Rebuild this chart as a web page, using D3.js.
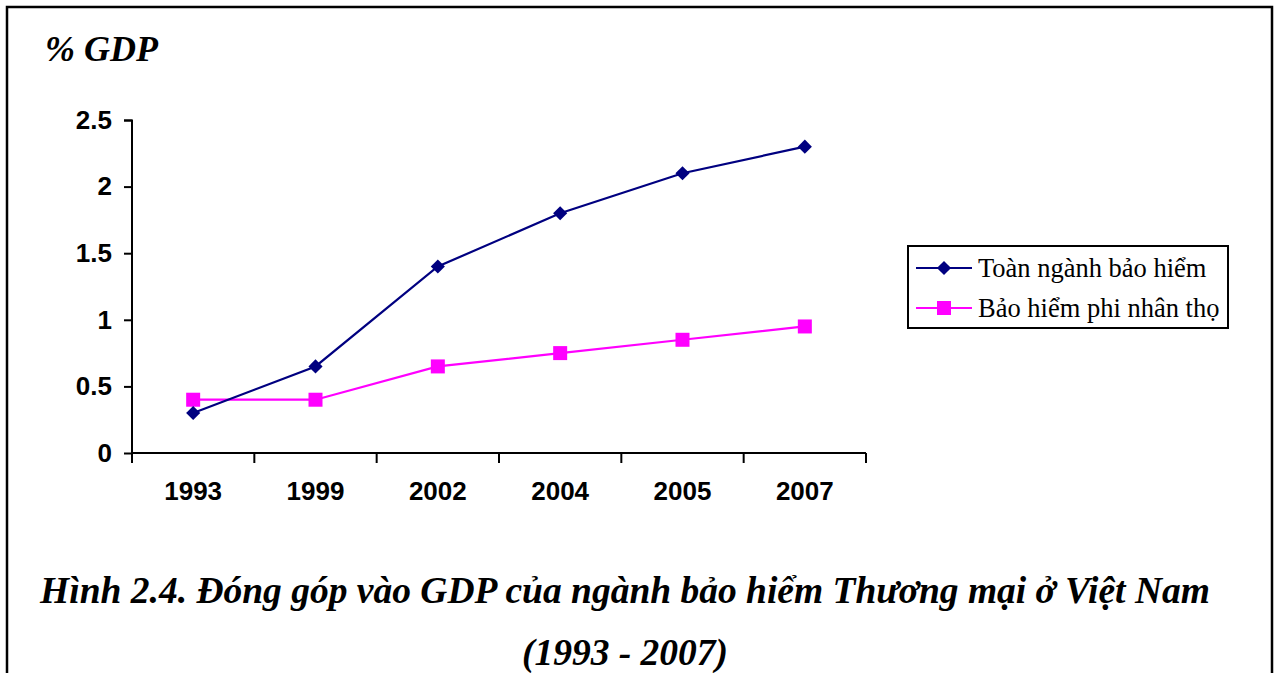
<!DOCTYPE html>
<html><head><meta charset="utf-8">
<script src="https://cdn.jsdelivr.net/npm/d3@7"></script>
<style>body{margin:0;background:#fff}svg{display:block}</style>
</head><body>
<svg id="c" width="1280" height="673"></svg>
<script>
const categories = ["1993","1999","2002","2004","2005","2007"];
const totalInsurance = [0.3, 0.65, 1.4, 1.8, 2.1, 2.3];
const nonLifeInsurance = [0.4, 0.4, 0.65, 0.75, 0.85, 0.95];
const yTicks = [0, 0.5, 1, 1.5, 2, 2.5];
const seriesNames = ["Toàn ngành bảo hiểm", "Bảo hiểm phi nhân thọ"];
const yTitle = "% GDP";
const captionLines = ["Hình 2.4. Đóng góp vào GDP của ngành bảo hiểm Thương mại ở Việt Nam", "(1993 - 2007)"];

const svg = d3.select("#c");
// frame
svg.append("path").attr("d","M7,680 V7 H1272 V680").attr("fill","none").attr("stroke","#000").attr("stroke-width",2.5);

const x = d3.scaleBand().domain(categories).range([132, 866]);
const y = d3.scaleLinear().domain([0, 2.5]).range([453, 120]);

const gy = svg.append("g").attr("transform","translate(132,0)")
  .call(d3.axisLeft(y).tickValues(yTicks).tickFormat(d=>String(d)).tickSize(8).tickPadding(12));
gy.select(".domain").attr("stroke","#000").attr("stroke-width",2).attr("d","M-8,120.5H0V453");
gy.selectAll(".tick line").attr("stroke","#000").attr("stroke-width",2);
gy.selectAll(".tick text").attr("font-family","Liberation Sans, Arial").attr("font-weight","bold").attr("font-size",26).attr("fill","#000");

const gx = svg.append("g").attr("transform","translate(0,453)")
  .call(d3.axisBottom(x).tickSize(0).tickPadding(29));
gx.select(".domain").attr("stroke","#000").attr("stroke-width",2).attr("d","M132,0H866");
gx.selectAll(".tick text").attr("font-family","Liberation Sans, Arial").attr("font-weight","bold").attr("font-size",26).attr("fill","#000");
// category boundary ticks
const bounds = categories.map(c=>x(c)).concat([x(categories[categories.length-1])+x.bandwidth()]);
svg.append("g").selectAll("line").data(bounds).join("line")
  .attr("x1",d=>d).attr("x2",d=>d).attr("y1",453).attr("y2",463).attr("stroke","#000").attr("stroke-width",2);

const cx = c => x(c) + x.bandwidth()/2;
const line = d3.line().x((d,i)=>cx(categories[i])).y(d=>y(d));

svg.append("path").datum(nonLifeInsurance).attr("d",line).attr("fill","none").attr("stroke","#ff00ff").attr("stroke-width",2.2);
svg.append("path").datum(totalInsurance).attr("d",line).attr("fill","none").attr("stroke","#000080").attr("stroke-width",2.2);

svg.append("g").selectAll("rect").data(nonLifeInsurance).join("rect")
  .attr("x",(d,i)=>cx(categories[i])-7).attr("y",d=>y(d)-7).attr("width",14).attr("height",14).attr("fill","#ff00ff");
svg.append("g").selectAll("path").data(totalInsurance).join("path")
  .attr("d", d3.symbol().type(d3.symbolSquare).size(100))
  .attr("transform",(d,i)=>`translate(${cx(categories[i])},${y(d)}) rotate(45)`).attr("fill","#000080");

// y title
svg.append("text").attr("x",45).attr("y",61).text(yTitle)
  .attr("font-family","Liberation Serif, Times New Roman").attr("font-weight","bold").attr("font-style","italic").attr("font-size",36);

// legend
const lg = svg.append("g");
lg.append("rect").attr("x",908).attr("y",246).attr("width",320).attr("height",82).attr("fill","#fff").attr("stroke","#000").attr("stroke-width",2);
const colors = ["#000080","#ff00ff"];
seriesNames.forEach((n,i)=>{
  const yy = 268 + i*40;
  lg.append("line").attr("x1",916).attr("x2",972).attr("y1",yy).attr("y2",yy).attr("stroke",colors[i]).attr("stroke-width",2);
  if(i===0) lg.append("path").attr("d",d3.symbol().type(d3.symbolSquare).size(100)).attr("transform",`translate(944,${yy}) rotate(45)`).attr("fill",colors[i]);
  else lg.append("rect").attr("x",937).attr("y",yy-7).attr("width",14).attr("height",14).attr("fill",colors[i]);
  lg.append("text").attr("x",978).attr("y",yy+9).text(n).attr("font-family","Liberation Serif, Times New Roman").attr("font-size",26.5);
});

// caption
captionLines.forEach((t,i)=>{
  svg.append("text").attr("x",625).attr("y",603+i*62).attr("text-anchor","middle").text(t)
    .attr("font-family","Liberation Serif, Times New Roman").attr("font-weight","bold").attr("font-style","italic").attr("font-size",37.5);
});
</script>
</body></html>
